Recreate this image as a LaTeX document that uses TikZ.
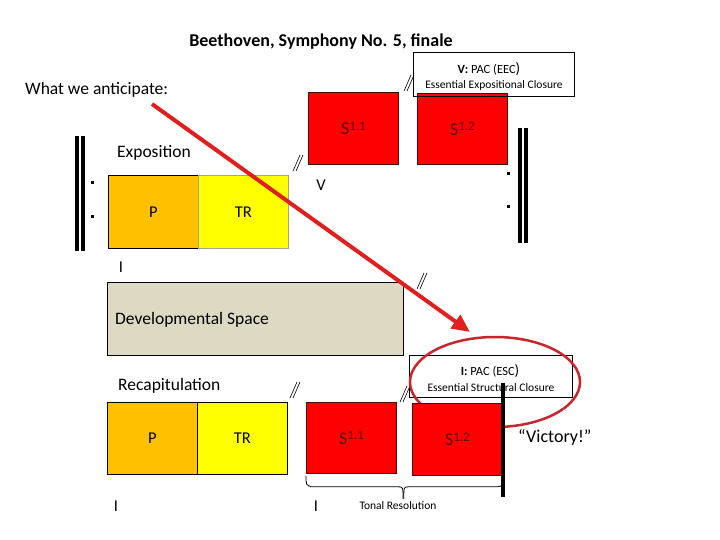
\documentclass[tikz,border=0pt]{standalone}
\usepackage{fontspec}
\setmainfont{Carlito}
\usetikzlibrary{arrows.meta}
\definecolor{porange}{HTML}{FFC000}
\definecolor{tryellow}{HTML}{FFFF00}
\definecolor{sred}{HTML}{FF0000}
\definecolor{devtan}{HTML}{DDD9C3}
\definecolor{arrred}{HTML}{E0201E}
\definecolor{ellred}{HTML}{C8262C}
\definecolor{slabel}{HTML}{5A0A0A}
\definecolor{sborder}{HTML}{4A0A0A}
\definecolor{trborder}{HTML}{9FA88F}
\newcommand{\fsz}[1]{\fontsize{#1}{#1}\selectfont}
\newcommand{\slab}[1]{S\raisebox{0.55ex}{\fsz{13}#1}}
\begin{document}
\begin{tikzpicture}[x=1pt,y=-1pt,
  block/.style={draw, line width=0.8pt, inner sep=0pt, anchor=north west, font=\fsz{16.5}},
  pbox/.style={block, fill=porange, minimum width=90pt, minimum height=73pt},
  trbox/.style={block, fill=tryellow, minimum width=90pt, minimum height=73pt},
  sbox/.style={block, fill=sred, draw=sborder, minimum width=90pt, minimum height=72pt, text=slabel, font=\fsz{18}},
  cadbox/.style={draw, line width=0.8pt, inner sep=0pt, anchor=north west},
  biglbl/.style={font=\fsz{17.5}, inner sep=0pt, anchor=west},
  keylbl/.style={font=\fsz{16.5}, inner sep=0pt},
  smalllbl/.style={font=\fsz{11.5}, inner sep=0pt},
  cadlbl/.style={font=\fsz{12.5}, inner sep=0pt},
  dotmark/.style={fill=black, minimum size=3pt, inner sep=0pt},
  barmark/.style={fill=black, minimum width=3.8pt, inner sep=0pt},
  brk/.pic={\draw[line width=0.6pt] (-5,8) -- (2,-8) (-2,8) -- (5,-8);}
]
\useasboundingbox (0,0) rectangle (720,540);

% title and headings
\node[font=\bfseries\fsz{18}, inner sep=0pt] (title) at (321,42) {Beethoven, Symphony No. 5, finale};
\node[biglbl] (anticip) at (25,90) {What we anticipate:};
\node[biglbl] (expo) at (117,153) {Exposition};

% exposition blocks
\node[pbox] (pe) at (108,175) {P};
\node[trbox, draw=trborder] (tre) at (198,175) {TR};
\node[keylbl] (ie) at (121,267) {I};
\node[keylbl] (ve) at (321,185) {V};
\pic (b2) at (298,163) {brk};

% secondary theme (exposition)
\node[sbox] (s11t) at (308,92) {\slab{1.1}};
\node[sbox, minimum height=71pt] (s12t) at (417,93) {\slab{1.2}};

% EEC box
\node[cadbox, minimum width=161pt, minimum height=44pt] (eecbox) at (413,52) {};
\node[cadlbl] (eec1) at (489,69) {\textbf{V:} PAC (EEC{\fsz{15})}};
\node[smalllbl] (eec2) at (494,85) {Essential Expositional Closure};
\pic (b1) at (409,83) {brk};

% repeat signs
\node[barmark, minimum height=115pt] (lb1) at (77.3,193.5) {};
\node[barmark, minimum height=115pt] (lb2) at (82.8,193.5) {};
\node[dotmark] (ld1) at (92,183) {};
\node[dotmark] (ld2) at (92,217) {};
\node[barmark, minimum height=115pt] (rb1) at (520,185.5) {};
\node[barmark, minimum height=115pt] (rb2) at (526,185.5) {};
\node[dotmark] (rd1) at (508,174) {};
\node[dotmark] (rd2) at (508,207) {};

% development
\node[cadbox, fill=devtan, minimum width=296pt, minimum height=73pt] (dev) at (107,282) {};
\node[biglbl] (devtxt) at (115,320) {Developmental Space};
\pic (b3) at (422,281) {brk};

% recapitulation
\node[biglbl] (recap) at (118,386) {Recapitulation};
\node[pbox, minimum height=72pt] (pr) at (107,402) {P};
\node[trbox, minimum height=72pt] (trr) at (197,402) {TR};
\pic (b4) at (295,390) {brk};
\node[keylbl] (ir1) at (116,506) {I};
\node[keylbl] (ir2) at (316,506) {I};

\node[sbox, minimum height=71pt] (s11b) at (306,402) {\slab{1.1}};

% ESC box
\node[cadbox, minimum width=163pt, minimum height=42pt] (escbox) at (409,355) {};
\node[cadlbl] (esc1) at (490,371) {\textbf{I:} PAC (ESC{\fsz{15})}};
\node[smalllbl] (esc2) at (491,388) {Essential Structural Closure};
\pic (b5) at (405,394) {brk};

% red ellipse
\draw[ellred, line width=2.5pt] (495,382) ellipse [x radius=85pt, y radius=45pt];

\node[sbox] (s12b) at (412,403) {\slab{1.2}};

% tonal resolution bracket
\draw[line width=0.8pt] (s11b.south west) ++(0,2) .. controls +(0,9) .. ++(5,11) -- ++(87,0)
  .. controls +(5,0) .. ++(5,12);
\draw[line width=0.8pt] (s12b.south east) ++(0,1) .. controls +(0,9) .. ++(-5,10) -- ++(-89,0)
  .. controls +(-5,0) .. ++(-5,12);
\node[smalllbl] (tonal) at (398,506) {Tonal Resolution};

% final bar
\node[barmark, minimum width=4pt, minimum height=114pt] (fbar) at (503,440) {};
\node[font=\fsz{18}, inner sep=0pt, anchor=west] (victory) at (518,437) {“Victory!”};

% red arrow
\coordinate (arrS) at (152,104);
\coordinate (arrE) at (470,332);
\draw[arrred, line width=4pt, -{Triangle[length=18pt,width=16pt]}] (arrS) -- (arrE);
\end{tikzpicture}
\end{document}
